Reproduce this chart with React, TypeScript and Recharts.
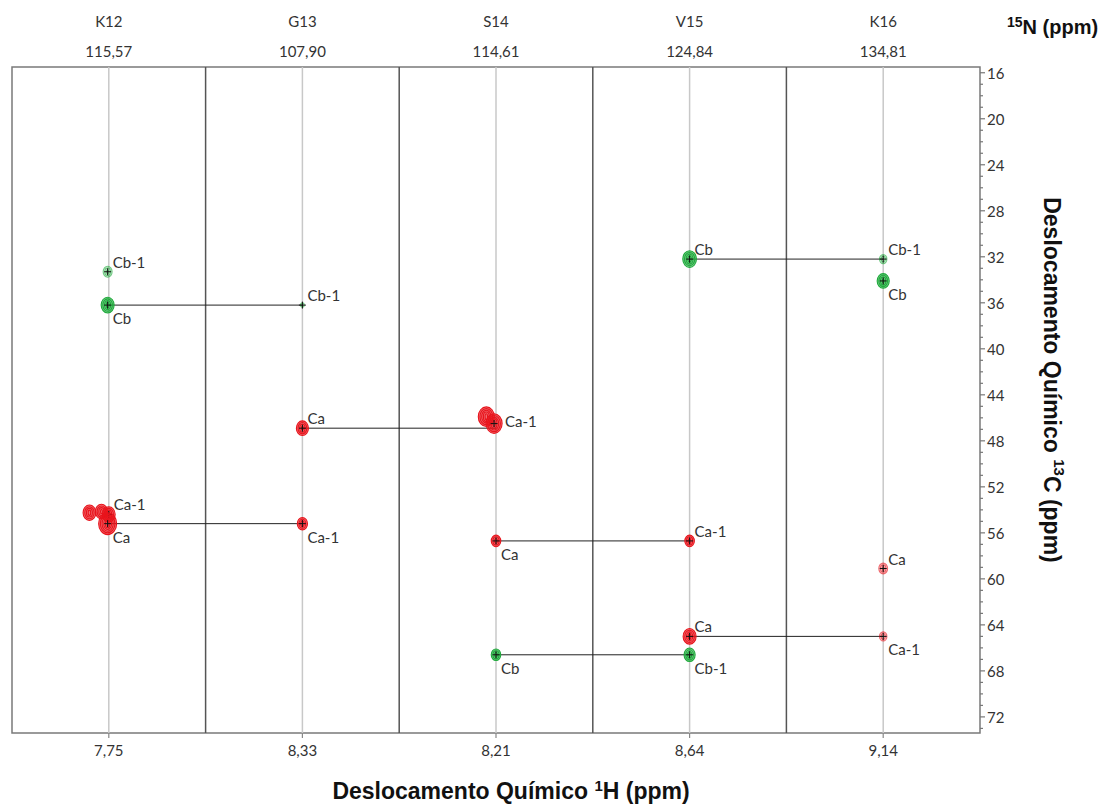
import React from 'react';
import {
  ComposedChart,
  XAxis,
  YAxis,
  ZAxis,
  Scatter,
  ReferenceLine,
  ReferenceArea,
} from 'recharts';

// Residues shown as strips, with their amide 15N and 1H shifts
const residues = ['K12', 'G13', 'S14', 'V15', 'K16'];
const n15Labels = ['115,57', '107,90', '114,61', '124,84', '134,81'];
const h1Labels = ['7,75', '8,33', '8,21', '8,64', '9,14'];
const h1Values = [7.75, 8.33, 8.21, 8.64, 9.14];

// 13C axis labels (ppm)
const c13MajorTicks = [16, 20, 24, 28, 32, 36, 40, 44, 48, 52, 56, 60, 64, 68, 72];

// Peaks per strip: residue, assignment, 13C shift, 1H shift, relative intensity
type Peak = { residue: string; label: string; c13: number; h1: number; intensity: number };

const caPeaks: Peak[] = [
  { residue: 'K12', label: 'Ca-1', c13: 54.4, h1: 7.75, intensity: 0.5 },
  { residue: 'K12', label: '', c13: 54.25, h1: 7.8, intensity: 0.5 },
  { residue: 'K12', label: '', c13: 54.15, h1: 7.769, intensity: 0.45 },
  { residue: 'K12', label: 'Ca', c13: 55.2, h1: 7.753, intensity: 1.0 },
  { residue: 'G13', label: 'Ca', c13: 46.9, h1: 8.33, intensity: 0.45 },
  { residue: 'G13', label: 'Ca-1', c13: 55.2, h1: 8.33, intensity: 0.32 },
  { residue: 'S14', label: '', c13: 45.9, h1: 8.235, intensity: 0.8 },
  { residue: 'S14', label: 'Ca-1', c13: 46.5, h1: 8.215, intensity: 0.8 },
  { residue: 'S14', label: 'Ca', c13: 56.7, h1: 8.21, intensity: 0.28 },
  { residue: 'V15', label: 'Ca-1', c13: 56.7, h1: 8.64, intensity: 0.28 },
  { residue: 'V15', label: 'Ca', c13: 65.0, h1: 8.64, intensity: 0.52 },
  { residue: 'K16', label: 'Ca', c13: 59.1, h1: 9.14, intensity: 0.24 },
  { residue: 'K16', label: 'Ca-1', c13: 65.0, h1: 9.14, intensity: 0.17 },
];

const cbPeaks: Peak[] = [
  { residue: 'K12', label: 'Cb-1', c13: 33.3, h1: 7.753, intensity: 0.25 },
  { residue: 'K12', label: 'Cb', c13: 36.2, h1: 7.753, intensity: 0.52 },
  { residue: 'G13', label: 'Cb-1', c13: 36.2, h1: 8.33, intensity: 0.04 },
  { residue: 'S14', label: 'Cb', c13: 66.6, h1: 8.21, intensity: 0.28 },
  { residue: 'V15', label: 'Cb', c13: 32.2, h1: 8.64, intensity: 0.58 },
  { residue: 'V15', label: 'Cb-1', c13: 66.6, h1: 8.64, intensity: 0.38 },
  { residue: 'K16', label: 'Cb-1', c13: 32.2, h1: 9.14, intensity: 0.17 },
  { residue: 'K16', label: 'Cb', c13: 34.1, h1: 9.14, intensity: 0.45 },
];

// Label placement relative to each assigned peak
const labelBelow = new Set([
  'K12 Cb', 'K12 Ca', 'G13 Ca-1', 'S14 Ca', 'S14 Cb', 'V15 Cb-1', 'K16 Cb', 'K16 Ca-1',
]);
const labelBeside = new Set(['S14 Ca-1']);

const STRIP_PPM = 0.5; // 1H width of one strip
const C13_DOMAIN: [number, number] = [15.5, 73.4];
const RED = '#e8141c';
const GREEN = '#1faa3c';
const TEXT = '#333333';
const FONT = 'Lato, "Open Sans", sans-serif';
const TITLE_FONT = '"Liberation Sans", Arial, sans-serif';
const PLOT_TOP = 67;
const WEAK = 0.26; // peaks below this intensity are drawn pale

const stripCenter = (i: number) => i + 0.5;

const toPoint = (p: Peak) => {
  const i = residues.indexOf(p.residue);
  return {
    ...p,
    x: stripCenter(i) - (p.h1 - h1Values[i]) / STRIP_PPM,
    y: p.c13,
    z: p.intensity,
  };
};

const caData = caPeaks.map(toPoint);
const cbData = cbPeaks.map(toPoint);

// Sequential connectivities: Ca/Cb of residue i to Ca-1/Cb-1 of residue i+1
const allPeaks = [...caPeaks, ...cbPeaks];
const links = allPeaks
  .filter((p) => p.label === 'Ca' || p.label === 'Cb')
  .map((p) => {
    const i = residues.indexOf(p.residue);
    const next = residues[i + 1];
    const partner = allPeaks.find((q) => q.residue === next && q.label === p.label + '-1');
    return partner ? { from: i, to: i + 1, c13: p.c13 } : null;
  })
  .filter(Boolean) as { from: number; to: number; c13: number }[];

// one tick per ppm; only the major ones carry a label
const c13Ticks = Array.from({ length: 58 }, (_, k) => 16 + k);

const makePeakShape = (color: string) => (props: any) => {
  const { cx, cy, payload } = props;
  if (cx == null || cy == null) return <g />;
  const w = props.width ?? 2 * Math.sqrt((payload.z * 300) / Math.PI);
  const r = Math.max(w / 2, 1.5);
  const pale = payload.z < WEAK;
  const rx = r * 0.92;
  const ry = r * 1.12;
  const rings = [] as React.ReactNode[];
  const step = 1.7;
  let k = 0;
  for (let d = 0; d < r - 0.8; d += step) {
    rings.push(
      <ellipse
        key={k++}
        cx={cx}
        cy={cy}
        rx={Math.max(rx - d, 0.6)}
        ry={Math.max(ry - d, 0.8)}
        fill="none"
        stroke={color}
        strokeWidth={1.1}
        strokeOpacity={pale ? 0.6 : 1}
      />
    );
  }
  const key = `${payload.residue} ${payload.label}`;
  const below = labelBelow.has(key);
  const beside = labelBeside.has(key);
  const lx = cx + (beside ? 11 : 5);
  const ly = beside ? cy - 3 : below ? cy + 13 : cy - 10;
  return (
    <g>
      <ellipse cx={cx} cy={cy} rx={rx} ry={ry} fill={color} fillOpacity={pale ? 0.22 : 0.62} />
      {rings}
      {payload.label && (
        <g stroke="#111" strokeWidth={1}>
          <line x1={cx - 3.5} x2={cx + 3.5} y1={cy} y2={cy} />
          <line x1={cx} x2={cx} y1={cy - 3.5} y2={cy + 3.5} />
        </g>
      )}
      {payload.label && (
        <text x={lx} y={ly} fill={TEXT} fontSize={15} fontFamily={FONT} dominantBaseline="central">
          {payload.label}
        </text>
      )}
    </g>
  );
};

const C13Tick = (props: any) => {
  const { x, y, payload } = props;
  const v = payload.value;
  const major = c13MajorTicks.includes(v);
  return (
    <g>
      <line x1={x} x2={x + (major ? 5 : 3)} y1={y} y2={y} stroke="#777" strokeWidth={1.2} />
      {major && (
        <text x={x + 7} y={y} fill={TEXT} fontSize={15} fontFamily={FONT} dominantBaseline="central">
          {v}
        </text>
      )}
    </g>
  );
};

const BottomTick = (props: any) => {
  const { x, y, payload } = props;
  const i = Math.floor(payload.value);
  return (
    <g>
      <line x1={x} x2={x} y1={y} y2={y + 5} stroke="#888" strokeWidth={1.2} />
      <text x={x} y={y + 17} textAnchor="middle" fill={TEXT} fontSize={15} fontFamily={FONT} dominantBaseline="central">
        {h1Labels[i]}
      </text>
    </g>
  );
};

// residue name and 15N shift above each strip
const StripHeader = (index: number) => (props: any) => {
  const vb = props.viewBox || {};
  return (
    <g>
      <text x={vb.x} y={PLOT_TOP - 46} textAnchor="middle" fill={TEXT} fontSize={15} fontFamily={FONT} dominantBaseline="central">
        {residues[index]}
      </text>
      <text x={vb.x} y={PLOT_TOP - 16} textAnchor="middle" fill={TEXT} fontSize={15} fontFamily={FONT} dominantBaseline="central">
        {n15Labels[index]}
      </text>
    </g>
  );
};

const BottomTitle = (props: any) => {
  const vb = props.viewBox || {};
  return (
    <text
      x={vb.x + vb.width / 2 + 15}
      y={vb.y + 66}
      textAnchor="middle"
      fontFamily={TITLE_FONT}
      fontWeight="bold"
      fontSize={23}
      fill="#111"
    >
      Deslocamento Químico{' '}
      <tspan fontSize={15} dy={-8}>1</tspan>
      <tspan dy={8}>H (ppm)</tspan>
    </text>
  );
};

const RightTitles = (props: any) => {
  const vb = props.viewBox || {};
  const cx = vb.x + 72;
  const cy = vb.y + 313;
  return (
    <g>
      <text x={vb.x + 27} y={34} fontFamily={TITLE_FONT} fontWeight="bold" fontSize={20} fill="#111">
        <tspan fontSize={14} dy={-7}>15</tspan>
        <tspan dy={7}>N (ppm)</tspan>
      </text>
      <text
        x={cx}
        y={cy}
        transform={`rotate(90, ${cx}, ${cy})`}
        textAnchor="middle"
        dominantBaseline="central"
        fontFamily={TITLE_FONT}
        fontWeight="bold"
        fontSize={23}
        fill="#111"
      >
        Deslocamento Químico{' '}
        <tspan fontSize={15} dy={-8}>13</tspan>
        <tspan dy={8}>C (ppm)</tspan>
      </text>
    </g>
  );
};

export default function App() {
  return (
    <div style={{ position: 'absolute', left: 0, top: 0, background: '#fff' }}>
      <ComposedChart width={1106} height={805} margin={{ top: PLOT_TOP, right: 0, bottom: 0, left: 12 }}>
        <XAxis
          xAxisId="h"
          type="number"
          dataKey="x"
          domain={[0, 5]}
          ticks={[0.5, 1.5, 2.5, 3.5, 4.5]}
          interval={0}
          height={72}
          axisLine={false}
          tickLine={false}
          tickSize={0}
          tickMargin={0}
          tick={<BottomTick />}
          allowDataOverflow
          label={<BottomTitle />}
        />
        <YAxis
          yAxisId="c"
          orientation="right"
          type="number"
          dataKey="y"
          reversed
          domain={C13_DOMAIN}
          ticks={c13Ticks}
          interval={0}
          width={126}
          axisLine={false}
          tickLine={false}
          tickSize={0}
          tickMargin={0}
          tick={<C13Tick />}
          allowDataOverflow
          label={<RightTitles />}
        />
        <ZAxis dataKey="z" type="number" domain={[0, 1]} range={[0, 300]} />

        {residues.map((r, i) => (
          <ReferenceLine
            key={`c-${r}`}
            xAxisId="h"
            yAxisId="c"
            x={stripCenter(i)}
            stroke="#c8c8c8"
            strokeWidth={1.5}
            label={StripHeader(i)}
          />
        ))}
        {residues.slice(1).map((r, i) => (
          <ReferenceLine key={`s-${r}`} xAxisId="h" yAxisId="c" x={i + 1} stroke="#555" strokeWidth={1.5} />
        ))}
        <ReferenceArea
          xAxisId="h"
          yAxisId="c"
          x1={0}
          x2={5}
          y1={C13_DOMAIN[0]}
          y2={C13_DOMAIN[1]}
          fill="none"
          stroke="#7a7a7a"
          strokeWidth={1.5}
        />
        {links.map((l, k) => (
          <ReferenceLine
            key={`l-${k}`}
            xAxisId="h"
            yAxisId="c"
            segment={[
              { x: stripCenter(l.from), y: l.c13 },
              { x: stripCenter(l.to), y: l.c13 },
            ]}
            stroke="#222"
            strokeWidth={1}
          />
        ))}

        <Scatter xAxisId="h" yAxisId="c" data={caData} shape={makePeakShape(RED)} isAnimationActive={false} />
        <Scatter xAxisId="h" yAxisId="c" data={cbData} shape={makePeakShape(GREEN)} isAnimationActive={false} />
      </ComposedChart>
    </div>
  );
}
